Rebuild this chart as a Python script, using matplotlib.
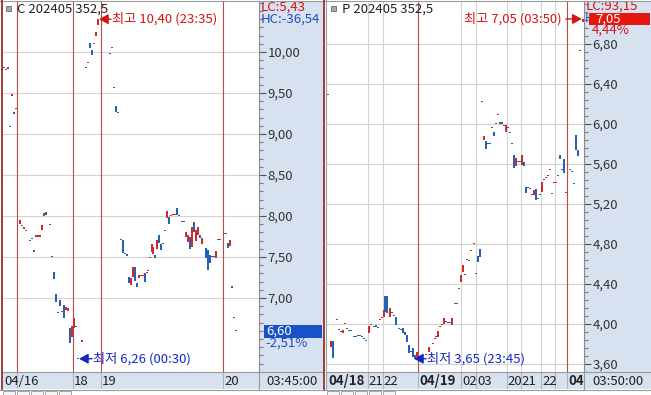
import matplotlib
matplotlib.use('Agg')
import matplotlib.pyplot as plt
from matplotlib.patches import Rectangle
from matplotlib.lines import Line2D
from matplotlib.ticker import FixedLocator, MultipleLocator, FuncFormatter
from matplotlib.transforms import offset_copy
import numpy as np

plt.rcParams['font.family'] = ['Liberation Sans Narrow', 'Noto Sans CJK KR', 'DejaVu Sans']

# ---------------- data ----------------
left_title = 'C 202405 352,5'
right_title = 'P 202405 352,5'

left_x = [0, 1, 2, 3, 4, 5, 6, 8, 9, 10, 11, 13, 14, 15, 16, 17, 18, 19, 20, 21, 23, 24, 25, 26,
          27, 28, 29, 30, 31, 32, 33, 34, 35, 36, 37, 39, 41, 42, 43, 44, 45, 46, 47, 53, 54, 55,
          56, 57, 58.5, 59.5, 60.5, 61.5, 62.5, 63.5, 64.5, 65.5, 66.5, 67.5, 68.5, 69.5, 70.5,
          71.5, 72, 73, 74, 74.5, 75.5, 76.5, 77.5, 78.5, 79.5, 80.5, 81.5, 82.5, 83.5, 84.5,
          85.5, 86.5, 87.5, 89, 90, 91, 92, 93, 94, 95, 96, 97, 98, 99, 101, 102, 103, 104, 105,
          106, 107, 108, 110, 111, 112, 113, 114, 115, 116]
left_open = [9.81, 9.79, 9.80, 9.10, 9.47, 9.26, 9.31, 7.90, 7.89, 7.85, 7.82, 7.71, 7.73, 7.58,
             7.75, 7.75, 7.75, 7.83, 8.00, 8.05, 7.90, 7.51, 7.32, 7.05, 6.83, 6.97, 6.83, 6.91,
             6.85, 6.84, 6.63, 6.52, 6.64, 6.66, 6.27, 6.47, 9.81, 9.87, 10.11, 10.02, 10.10,
             10.20, 10.33, 9.99, 10.05, 9.57, 9.34, 9.27, 7.71, 7.71, 7.55, 7.53, 7.26, 7.16,
             7.26, 7.38, 7.18, 7.25, 7.27, 7.27, 7.30, 7.31, 7.33, 7.49, 7.56, 7.54, 7.52, 7.60,
             7.77, 7.66, 7.67, 7.82, 7.98, 7.99, 8.00, 8.01, 8.01, 8.10, 8.01, 7.94, 7.94, 7.74,
             7.68, 7.74, 7.62, 7.93, 7.70, 7.77, 7.77, 7.66, 7.61, 7.59, 7.52, 7.51, 7.51, 7.49,
             7.71, 7.71, 7.78, 7.79, 7.67, 7.63, 7.14, 6.77, 6.61]
left_close = [9.82, 9.78, 9.81, 9.09, 9.48, 9.25, 9.32, 7.95, 7.88, 7.86, 7.83, 7.69, 7.72, 7.57,
              7.76, 7.76, 7.76, 7.89, 8.04, 8.01, 7.89, 7.50, 7.23, 6.95, 6.82, 6.90, 6.84, 6.76,
              6.89, 6.88, 6.45, 6.66, 6.76, 6.65, 6.26, 6.48, 9.82, 9.88, 10.05, 9.96, 10.11,
              10.24, 10.40, 9.98, 10.06, 9.56, 9.27, 9.26, 7.72, 7.55, 7.54, 7.52, 7.18, 7.24,
              7.38, 7.21, 7.13, 7.28, 7.28, 7.28, 7.19, 7.32, 7.34, 7.50, 7.66, 7.62, 7.49, 7.71,
              7.67, 7.59, 7.66, 7.83, 8.06, 7.90, 8.01, 8.02, 8.02, 8.01, 8.00, 7.93, 7.93, 7.80,
              7.77, 7.60, 7.87, 7.80, 7.83, 7.87, 7.73, 7.73, 7.49, 7.34, 7.43, 7.50, 7.50, 7.57,
              7.72, 7.72, 7.79, 7.78, 7.61, 7.71, 7.13, 6.76, 6.60]

right_x = [0, 1.5, 2.5, 4.5, 5.5, 6.5, 7.5, 8.5, 9.5, 10.5, 11.5, 13, 14, 15, 16, 17, 18, 19,
           20.5, 21.5, 23, 24, 25, 26, 27, 28, 28.5, 29.5, 31, 32, 33, 34, 35.5, 36.5, 37.5,
           38.5, 39.5, 40.5, 41.5, 42.5, 43.5, 44.5, 47, 49, 50.5, 52.5, 53.5, 54, 55, 56, 57,
           58, 59, 60, 61, 62, 63.5, 64.5, 65.5, 66.5, 67.5, 68.5, 69.5, 70.5, 71.5, 73, 74, 75,
           76, 77, 78, 79, 80, 81, 82, 83, 84, 85, 86, 87, 88, 89, 90, 91, 92, 93, 94, 95, 96,
           97, 98, 99, 100, 101, 102, 103, 104, 105, 106, 107, 108, 109, 110, 111, 112, 113,
           114, 115, 116, 117, 118, 119, 121, 122, 123, 124, 125, 126, 127.5]
right_open = [6.29, 3.77, 3.83, 4.04, 3.95, 3.92, 3.91, 4.00, 3.96, 3.94, 3.94, 3.88, 3.88, 3.89,
              3.88, 3.88, 3.86, 3.84, 3.91, 3.99, 3.97, 3.99, 3.97, 4.04, 4.06, 4.07, 4.28, 4.28,
              4.07, 4.12, 4.08, 4.07, 3.96, 3.95, 3.96, 3.92, 3.89, 3.79, 3.73, 3.76, 3.69, 3.67,
              3.66, 3.69, 3.72, 3.80, 3.85, 3.87, 3.87, 3.97, 3.99, 4.00, 4.03, 4.02, 4.02, 3.99,
              4.20, 4.21, 4.35, 4.42, 4.52, 4.50, 4.64, 4.64, 4.73, 4.80, 4.51, 4.68, 4.75, 6.22,
              5.84, 5.83, 5.81, 5.81, 5.96, 5.92, 6.00, 6.09, 6.02, 6.02, 5.98, 5.92, 5.97, 5.92,
              5.81, 5.69, 5.58, 5.63, 5.63, 5.59, 5.62, 5.37, 5.37, 5.36, 5.29, 5.29, 5.35, 5.26,
              5.30, 5.32, 5.44, 5.46, 5.48, 5.54, 5.31, 5.41, 5.41, 5.49, 5.69, 5.55, 5.65, 5.31,
              5.54, 5.53, 5.41, 5.89, 5.74, 6.73, 7.02]
right_close = [6.30, 3.83, 3.66, 4.05, 3.94, 3.93, 3.94, 4.01, 3.95, 3.93, 3.93, 3.87, 3.87, 3.88,
               3.89, 3.87, 3.85, 3.83, 3.98, 4.00, 3.98, 3.97, 3.96, 4.05, 4.07, 4.14, 4.12, 4.11,
               4.16, 4.11, 4.09, 3.99, 3.95, 3.94, 3.91, 3.89, 3.82, 3.71, 3.72, 3.67, 3.65, 3.72,
               3.67, 3.70, 3.77, 3.81, 3.86, 3.88, 3.93, 3.98, 4.00, 4.06, 4.02, 4.01, 4.01, 4.06,
               4.21, 4.20, 4.36, 4.49, 4.59, 4.49, 4.65, 4.63, 4.74, 4.81, 4.50, 4.62, 4.67, 6.23,
               5.88, 5.75, 5.80, 5.80, 5.97, 5.88, 6.01, 6.10, 6.00, 6.00, 5.99, 5.99, 5.96, 5.91,
               5.80, 5.56, 5.66, 5.62, 5.62, 5.69, 5.58, 5.31, 5.36, 5.35, 5.30, 5.34, 5.24, 5.25,
               5.29, 5.42, 5.45, 5.47, 5.49, 5.55, 5.30, 5.42, 5.42, 5.48, 5.65, 5.54, 5.51, 5.32,
               5.55, 5.52, 5.40, 5.74, 5.68, 6.74, 7.05]

left_day_breaks = [6.5, 34.5, 48.5, 109.5]
left_hour_lines = []
left_labels = ['04/16', '18', '19', '20']
left_label_pos = [-0.5, 34.5, 48.5, 109.5]
left_label_bold = [False, False, False, False]
left_time = '03:45:00'
left_high_time, left_low_time = '23:35', '00:30'
left_lc, left_hc = 'LC:5,43', 'HC:-36,54'
left_chg = '-2,51%'

right_day_breaks = [45.2, 119.5]
right_hour_lines = [19.8, 27.3, 66.7, 74.0, 89.3, 96.3, 106.5, 113.7]
right_labels = ['04/18', '21', '22', '04/19', '02', '03', '20', '21', '22', '04,']
right_label_pos = [-0.5, 19.8, 27.3, 45.2, 66.7, 74.0, 89.3, 96.3, 106.5, 119.5]
right_label_bold = [True, False, False, True, False, False, False, False, False, True]
right_time = '03:50:00'
right_high_time, right_low_time = '03:50', '23:45'
right_lc, right_hc = 'LC:93,15', 'H'
right_chg = '4,44%'

left_major = [7.0, 7.5, 8.0, 8.5, 9.0, 9.5, 10.0]
right_major = [3.6, 4.0, 4.4, 4.8, 5.2, 5.6, 6.0, 6.4, 6.8]

# ---------------- style ----------------
RED = '#d22a2a'
BLUE = '#2860b4'
ANN_RED = '#d41414'
ANN_BLUE = '#1428c4'
SEP = '#b84a4a'
GRID = '#d4d4d4'
BAND = '#d7e1ef'
FRAME = '#a03a3a'

W, H = 651, 395
fig = plt.figure(figsize=(W / 100, H / 100), dpi=100)
fig.patch.set_facecolor('white')


def px_rect(x0, y0, x1, y1):
    return [x0 / W, 1 - y1 / H, (x1 - x0) / W, (y1 - y0) / H]


def ftext(x, y, s, **kw):
    kw.setdefault('va', 'center')
    kw.setdefault('ha', 'left')
    return fig.text(x / W, 1 - y / H, s, **kw)


def frect(x0, y0, x1, y1, **kw):
    r = Rectangle((x0 / W, 1 - y1 / H), (x1 - x0) / W, (y1 - y0) / H,
                  transform=fig.transFigure, **kw)
    fig.add_artist(r)
    return r


def fline(x0, y0, x1, y1, **kw):
    fig.add_artist(Line2D([x0 / W, x1 / W], [1 - y0 / H, 1 - y1 / H],
                          transform=fig.transFigure, **kw))


def comma(v, p=None):
    return f'{v:.2f}'.replace('.', ',')


def candles(ax, x, o, c, unit_px):
    x = np.asarray(x, float)
    o = np.asarray(o, float)
    c = np.asarray(c, float)
    up = c >= o
    body = np.abs(c - o)
    doji = body < 0.015
    min_h = 1.3 / unit_px
    h = np.where(doji, min_h, np.maximum(body, min_h))
    bottom = np.where(doji, (o + c) / 2 - min_h / 2, np.minimum(o, c))
    w = np.where(doji, 1.0, 0.6)
    ax.bar(x, h, bottom=bottom, width=w, color=np.where(up, RED, BLUE),
           linewidth=0, zorder=3)


def panel(x, o, c, plot_box, band_box, tbox, tbox2, xlim, ylim, unit_px, major, minor,
          seps, hours, lab_pos, labs, bold, ttxt):
    band = fig.add_axes(px_rect(*band_box))
    band.set_facecolor(BAND)
    band.set_xticks([]); band.set_yticks([])
    for s in band.spines.values():
        s.set_visible(False)

    ax = fig.add_axes(px_rect(*plot_box))
    ax.set_facecolor('white')
    for s in ['left', 'top', 'bottom']:
        ax.spines[s].set_visible(False)
    ax.spines['right'].set_color('#8c8c8c')
    ax.spines['right'].set_linewidth(0.8)
    ax.yaxis.tick_right()
    ax.yaxis.set_major_locator(FixedLocator(major))
    ax.yaxis.set_minor_locator(MultipleLocator(minor))
    ax.yaxis.set_major_formatter(FuncFormatter(comma))
    ax.tick_params(axis='y', which='major', direction='out', length=5, width=0.8,
                   color='#555555', labelsize=9.5, labelcolor='#333333', pad=1)
    ax.tick_params(axis='y', which='minor', direction='out', length=3, width=0.8,
                   color='#7a7a7a')
    ax.set_xticks([])
    for v in major:
        ax.axhline(v, color=GRID, lw=0.8, zorder=0)
    for p in hours:
        ax.axvline(p, color=GRID, lw=0.8, zorder=0)
    for p in seps:
        ax.axvline(p, color=SEP, lw=0.8, zorder=1)
    candles(ax, x, o, c, unit_px)
    ax.set_xlim(*xlim)
    ax.set_ylim(*ylim)

    tax = fig.add_axes(px_rect(*tbox))
    tax.set_facecolor(BAND)
    tax.set_xlim(*xlim); tax.set_ylim(0, 1)
    tax.set_xticks([]); tax.set_yticks([])
    for s in ['left', 'right', 'bottom']:
        tax.spines[s].set_visible(False)
    tax.spines['top'].set_color('#9a9a9a'); tax.spines['top'].set_linewidth(0.8)
    for p in list(seps) + list(hours):
        tax.axvline(p, color='#aab4c4', lw=0.8)
    tr = offset_copy(tax.transData, fig=fig, x=1.0, y=0, units='dots')
    for p, t, b in zip(lab_pos, labs, bold):
        tax.text(p, 0.45, t, transform=tr, ha='left', va='center', fontsize=9.5,
                 color='#222222', fontweight='bold' if b else 'normal', clip_on=True)

    tax2 = fig.add_axes(px_rect(*tbox2))
    tax2.set_facecolor(BAND)
    tax2.set_xticks([]); tax2.set_yticks([])
    for s in ['right', 'bottom']:
        tax2.spines[s].set_visible(False)
    for s in ['top', 'left']:
        tax2.spines[s].set_color('#9a9a9a'); tax2.spines[s].set_linewidth(0.8)
    tax2.text(0.12, 0.45, ttxt, transform=tax2.transAxes, ha='left', va='center',
              fontsize=9.5, color='#222222')
    return ax


def arrow_note(ax, xy, text, color, side, tail_px, text_px):
    k = 72 / fig.dpi
    sgn = 1 if side == 'right' else -1
    ax.annotate('', xy=xy, xytext=(sgn * tail_px * k, 0), textcoords='offset points',
                arrowprops=dict(arrowstyle='-|>,head_length=0.55,head_width=0.3',
                                color=color, lw=1.0, shrinkA=0, shrinkB=0,
                                mutation_scale=10), zorder=6, annotation_clip=False)
    ax.annotate(text, xy=xy, xytext=(sgn * text_px * k, 0), textcoords='offset points',
                ha='left' if side == 'right' else 'right', va='center', color=color,
                fontsize=9.5, zorder=6, annotation_clip=False)


# left panel
axL = panel(left_x, left_open, left_close, (3, 1, 259, 372), (259, 1, 323, 372),
            (3, 372, 259, 389), (259, 372, 323, 389), (-0.5, 127.5),
            (6.098, 10.622), 82, left_major, 0.1, left_day_breaks, left_hour_lines,
            left_label_pos, left_labels, left_label_bold, left_time)
# right panel
axR = panel(right_x, right_open, right_close, (327, 1, 584, 372), (584, 1, 651, 372),
            (327, 372, 584, 389), (584, 372, 651, 389), (-0.5, 128),
            (3.517, 7.23), 100, right_major, 0.08, right_day_breaks, right_hour_lines,
            right_label_pos, right_labels, right_label_bold, right_time)

# high / low markers
lx, lc_ = np.asarray(left_x), np.asarray(left_close)
ih, il = int(np.argmax(lc_)), int(np.argmin(lc_))
arrow_note(axL, (lx[ih] + 0.5, lc_[ih]), f'최고 {comma(lc_[ih])} ({left_high_time})',
           ANN_RED, 'right', 12, 13)
arrow_note(axL, (lx[il] + 0.5, lc_[il]), f'최저 {comma(lc_[il])} ({left_low_time})',
           ANN_BLUE, 'right', 13, 14)
rx, rc_ = np.asarray(right_x), np.asarray(right_close)
ih, il = int(np.argmax(rc_)), int(np.argmin(rc_))
arrow_note(axR, (rx[ih] - 0.6, rc_[ih]), f'최고 {comma(rc_[ih])} ({right_high_time})',
           ANN_RED, 'left', 16, 20)
arrow_note(axR, (rx[il] - 0.5, rc_[il]), f'최저 {comma(rc_[il])} ({right_low_time})',
           ANN_BLUE, 'right', 12, 13)

# titles with icon
for x0, t in [(6, left_title), (331, right_title)]:
    frect(x0, 6, x0 + 5, 11, facecolor='#a8a8a8', edgecolor='#6a6a6a', lw=0.6, zorder=5)
    ftext(x0 + 11, 9, t, fontsize=9.5, color='#222222', zorder=5)

# band info texts
ftext(261, 7.5, left_lc, fontsize=9.5, color=ANN_RED, zorder=5)
ftext(261, 19, left_hc, fontsize=9.5, color='#1a50c0', zorder=5)
frect(264, 325, 322, 338, facecolor='#1852c6', edgecolor='none', zorder=6)
ftext(266, 331.5, comma(left_close[-1]), fontsize=9.5, color='white', zorder=7)
ftext(265, 343, left_chg, fontsize=9.5, color='#1a50c0', zorder=5)

ftext(586, 6, right_lc, fontsize=9.5, color=ANN_RED, zorder=5)
ftext(584.5, 19, right_hc, fontsize=8.5, color='#1a50c0', zorder=5)
frect(589, 13, 650, 25, facecolor='#e4180e', edgecolor='none', zorder=6)
ftext(595, 19, comma(right_close[-1]), fontsize=9.5, color='white', zorder=7)
ftext(592, 30.5, right_chg, fontsize=9.5, color=ANN_RED, zorder=5)

# frame lines
fline(0, 0.5, 651, 0.5, color='#9a9a9a', lw=0.8, zorder=8)
fline(1.5, 0, 1.5, 389, color=FRAME, lw=1.4, zorder=8)
fline(324.2, 0, 324.2, 389, color=FRAME, lw=1.4, zorder=8)
fline(326.3, 0, 326.3, 389, color='#a0a0a0', lw=0.8, zorder=8)
fline(0, 389.5, 651, 389.5, color='#9a9a9a', lw=0.8, zorder=8)

# bottom scroll strip
for x0 in [3, 327]:
    for i in range(5):
        frect(x0 + i * 14, 390.5, x0 + i * 14 + 12, 396, facecolor='#f4f4f4',
              edgecolor='#9a9a9a', lw=0.6, zorder=8)

fig.savefig('out.png', dpi=100, facecolor='white')
